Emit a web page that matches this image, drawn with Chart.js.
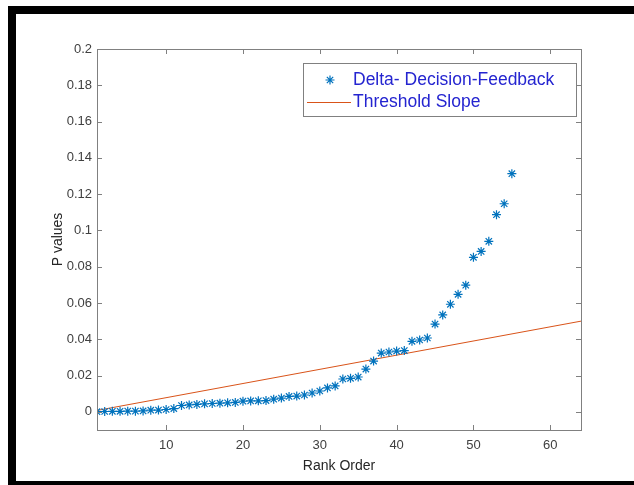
<!DOCTYPE html>
<html>
<head>
<meta charset="utf-8">
<script src="https://cdn.jsdelivr.net/npm/chart.js@4"></script>
<style>
  html, body { margin: 0; padding: 0; background: #fff; overflow: hidden; }
  #frame {
    position: absolute; left: 8px; top: 6px; width: 700px; height: 479px;
    box-sizing: border-box;
    border-top: 8px solid #000; border-left: 8px solid #000; border-bottom: 4px solid #000;
  }
  #wrap { position: absolute; left: 0; top: 0; width: 634px; height: 485px; }
</style>
</head>
<body>
<div id="frame"></div>
<div id="wrap"><canvas id="grafica" width="634" height="485"></canvas></div>
<script>
// ranked p values
const rankOrder = [1, 2, 3, 4, 5, 6, 7, 8, 9, 10, 11, 12, 13, 14, 15, 16, 17, 18, 19, 20,
  21, 22, 23, 24, 25, 26, 27, 28, 29, 30, 31, 32, 33, 34, 35, 36, 37, 38, 39, 40,
  41, 42, 43, 44, 45, 46, 47, 48, 49, 50, 51, 52, 53, 54, 55]
const pValues = [0.0001, 0.0002, 0.0003, 0.0003, 0.0004, 0.0004, 0.0005, 0.0009, 0.0010, 0.0013,
  0.0018, 0.0035, 0.0038, 0.0041, 0.0044, 0.0046, 0.0048, 0.0050, 0.0052, 0.0059,
  0.0060, 0.0061, 0.0062, 0.0070, 0.0076, 0.0085, 0.0087, 0.0093, 0.0104, 0.0115,
  0.0132, 0.0143, 0.0181, 0.0185, 0.0192, 0.0236, 0.0280, 0.0324, 0.0330, 0.0335,
  0.0338, 0.0389, 0.0396, 0.0407, 0.0484, 0.0534, 0.0593, 0.0648, 0.0698, 0.0852,
  0.0884, 0.0940, 0.1087, 0.1147, 0.1313]

// threshold line end points
const thresholdX = [1, 64]
const thresholdY = [0.00078, 0.05]

const xTicks = [10, 20, 30, 40, 50, 60]
const yTicks = [0, 0.02, 0.04, 0.06, 0.08, 0.1, 0.12, 0.14, 0.16, 0.18, 0.2]
const yTickLabels = ['0', '0.02', '0.04', '0.06', '0.08', '0.1', '0.12', '0.14', '0.16', '0.18', '0.2']

const FONT = 'Liberation Sans, Arial, sans-serif'
const BLUE = '#0072BD'
const ORANGE = '#D95319'

// box around the axes with inward ticks on all four sides
const axesBox = {
  id: 'axesBox',
  afterDraw(chart) {
    const {ctx, chartArea: a, scales} = chart
    ctx.save()
    ctx.strokeStyle = '#808080'
    ctx.lineWidth = 1
    ctx.strokeRect(a.left + 0.5, a.top + 0.5, a.right - a.left, a.bottom - a.top)
    const len = 5
    ctx.beginPath()
    xTicks.forEach(v => {
      const px = Math.round(scales.x.getPixelForValue(v)) + 0.5
      ctx.moveTo(px, a.bottom); ctx.lineTo(px, a.bottom - len)
      ctx.moveTo(px, a.top); ctx.lineTo(px, a.top + len)
    })
    yTicks.forEach(v => {
      const py = Math.round(scales.y.getPixelForValue(v)) + 0.5
      ctx.moveTo(a.left, py); ctx.lineTo(a.left + len, py)
      ctx.moveTo(a.right, py); ctx.lineTo(a.right - len, py)
    })
    ctx.stroke()
    ctx.restore()
  }
}

// legend box in the upper right corner
const legendBox = {
  id: 'legendBox',
  afterDraw(chart) {
    const {ctx} = chart
    const ds = chart.data.datasets
    const bx = 303.5, by = 63.5, bw = 273, bh = 53
    ctx.save()
    ctx.fillStyle = '#fff'
    ctx.fillRect(bx, by, bw, bh)
    ctx.strokeStyle = '#808080'
    ctx.lineWidth = 1
    ctx.strokeRect(bx, by, bw, bh)

    // marker sample
    ctx.strokeStyle = BLUE
    ctx.fillStyle = BLUE
    ctx.lineWidth = 1.2
    Chart.helpers.drawPoint(ctx, {pointStyle: 'star', radius: 4.5, borderWidth: 1.2}, 330, 80)
    // line sample
    ctx.strokeStyle = ORANGE
    ctx.lineWidth = 1
    ctx.beginPath()
    ctx.moveTo(307, 102.5); ctx.lineTo(351, 102.5)
    ctx.stroke()

    ctx.fillStyle = '#2424d0'
    ctx.font = '17.5px ' + FONT
    ctx.textBaseline = 'middle'
    ctx.textAlign = 'left'
    ctx.fillText(ds[0].label, 353, 80)
    ctx.fillText(ds[1].label, 353, 102)
    ctx.restore()
  }
}

const graph = document.querySelector('#grafica')

new Chart(graph, {
  type: 'scatter',
  data: {
    datasets: [
      {
        label: 'Delta- Decision-Feedback',
        data: rankOrder.map((r, i) => ({x: r, y: pValues[i]})),
        pointStyle: 'star',
        pointRadius: 4.5,
        borderColor: BLUE,
        backgroundColor: BLUE,
        pointBorderWidth: 1.2,
        showLine: false
      },
      {
        label: 'Threshold Slope',
        type: 'line',
        data: thresholdX.map((x, i) => ({x: x, y: thresholdY[i]})),
        borderColor: ORANGE,
        borderWidth: 1,
        pointRadius: 0,
        fill: false
      }
    ]
  },
  options: {
    responsive: false,
    animation: false,
    events: [],
    layout: {padding: {left: 0, right: 53, top: 49, bottom: 0}},
    plugins: {legend: {display: false}, tooltip: {enabled: false}},
    scales: {
      x: {
        type: 'linear',
        min: 1, max: 64,
        grid: {display: false, drawTicks: false},
        border: {display: false},
        afterBuildTicks: s => { s.ticks = xTicks.map(v => ({value: v})) },
        afterFit: s => { s.height = 55 },
        ticks: {padding: 8, color: '#404040', font: {family: FONT, size: 13}, maxRotation: 0},
        title: {display: true, text: 'Rank Order', color: '#262626',
          font: {family: FONT, size: 14}, padding: {top: 0, bottom: 10}}
      },
      y: {
        type: 'linear',
        min: -0.01, max: 0.2,
        grid: {display: false, drawTicks: false},
        border: {display: false},
        afterBuildTicks: s => { s.ticks = yTicks.map(v => ({value: v})) },
        afterFit: s => { s.width = 97 },
        ticks: {
          padding: 5, color: '#404040', font: {family: FONT, size: 13},
          callback: (v) => yTickLabels[yTicks.indexOf(v)] ?? ''
        },
        title: {display: true, text: 'P values', color: '#262626',
          font: {family: FONT, size: 14}, padding: {top: 50, bottom: 0}}
      }
    }
  },
  plugins: [axesBox, legendBox]
})
</script>
</body>
</html>
